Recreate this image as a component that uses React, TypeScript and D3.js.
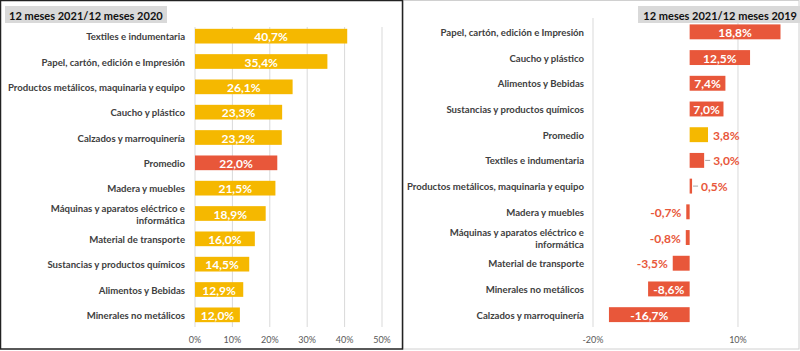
import React from "react";
import * as d3 from "d3";

const leftCategories = [
  "Textiles e indumentaria",
  "Papel, cartón, edición e Impresión",
  "Productos metálicos, maquinaria y equipo",
  "Caucho y plástico",
  "Calzados y marroquinería",
  "Promedio",
  "Madera y muebles",
  "Máquinas y aparatos eléctrico e|informática",
  "Material de transporte",
  "Sustancias y productos químicos",
  "Alimentos y Bebidas",
  "Minerales no metálicos",
];
const leftValues = [40.7, 35.4, 26.1, 23.3, 23.2, 22.0, 21.5, 18.9, 16.0, 14.5, 12.9, 12.0];
const leftTicks = [0, 10, 20, 30, 40, 50];

const rightCategories = [
  "Papel, cartón, edición e Impresión",
  "Caucho y plástico",
  "Alimentos y Bebidas",
  "Sustancias y productos químicos",
  "Promedio",
  "Textiles e indumentaria",
  "Productos metálicos, maquinaria y equipo",
  "Madera y muebles",
  "Máquinas y aparatos eléctrico e|informática",
  "Material de transporte",
  "Minerales no metálicos",
  "Calzados y marroquinería",
];
const rightValues = [18.8, 12.5, 7.4, 7.0, 3.8, 3.0, 0.5, -0.7, -0.8, -3.5, -8.6, -16.7];
const rightTicks = [-20, 10];

const YELLOW = "#F5B800";
const RED = "#E8573A";
const LABEL = "#404040";
const GRID = "#D9D9D9";
const FONT = "Lato, 'Open Sans', sans-serif";

const fmt = (v: number) => v.toFixed(1).replace(".", ",") + "%";

const CatLabel = ({ x, y, text }: { x: number; y: number; text: string }) => {
  const lines = text.split("|");
  const off = lines.length > 1 ? -6 : 0;
  return (
    <text
      x={x}
      y={y + off}
      textAnchor="end"
      dominantBaseline="central"
      fontSize={9.6}
      fontWeight={700}
      fill={LABEL}
      fontFamily={FONT}
    >
      {lines.map((l, i) => (
        <tspan key={i} x={x} dy={i === 0 ? 0 : 12.5}>
          {l}
        </tspan>
      ))}
    </text>
  );
};

const LeftChart = () => {
  const x = d3.scaleLinear().domain([0, 50]).range([195, 382]);
  const y = d3
    .scaleBand<string>()
    .domain(leftCategories)
    .range([23.5, 327.5])
    .paddingInner(0.42)
    .paddingOuter(0.21);

  return (
    <g>
      <rect x={0.5} y={0.5} width={402} height={348.5} fill="#fff" stroke="#222" strokeWidth={1.5} />
      <rect x={5} y={6} width={162} height={17} fill="#D9D9D9" />
      <text x={9} y={15} dominantBaseline="central" fontSize={11} fontWeight={700} fill="#111" fontFamily={FONT}>
        12 meses 2021/12 meses 2020
      </text>
      {leftTicks.map((t) => (
        <g key={t}>
          <line x1={x(t)} x2={x(t)} y1={27} y2={327} stroke={GRID} strokeWidth={1} />
          <text
            x={x(t)}
            y={339}
            textAnchor="middle"
            dominantBaseline="central"
            fontSize={9}
            fill="#595959"
            fontFamily={FONT}
          >
            {t}%
          </text>
        </g>
      ))}
      {leftCategories.map((c, i) => {
        const v = leftValues[i];
        const yy = y(c)!;
        const bw = y.bandwidth();
        const isAvg = c === "Promedio";
        return (
          <g key={c}>
            <rect x={x(0)} y={yy} width={x(v) - x(0)} height={bw} fill={isAvg ? RED : YELLOW} />
            <text
              x={(x(0) + x(v)) / 2}
              y={yy + bw / 2 + 0.5}
              textAnchor="middle"
              dominantBaseline="central"
              fontSize={12}
              fontWeight={700}
              fill="#fff"
              fontFamily={FONT}
            >
              {fmt(v)}
            </text>
            <CatLabel x={185} y={yy + bw / 2} text={c} />
          </g>
        );
      })}
    </g>
  );
};

const RightChart = () => {
  const x = d3.scaleLinear().domain([-20, 20]).range([593, 786.3]);
  const y = d3
    .scaleBand<string>()
    .domain(rightCategories)
    .range([19, 327.5])
    .paddingInner(0.42)
    .paddingOuter(0.21);

  return (
    <g>
      <rect x={403} y={0.5} width={396} height={348.5} fill="#fff" stroke="#D0D0D0" strokeWidth={1} />
      {rightTicks.map((t) => (
        <g key={t}>
          <line x1={x(t)} x2={x(t)} y1={18} y2={327} stroke={GRID} strokeWidth={1} />
          <text
            x={x(t)}
            y={339}
            textAnchor="middle"
            dominantBaseline="central"
            fontSize={9}
            fill="#595959"
            fontFamily={FONT}
          >
            {t}%
          </text>
        </g>
      ))}
      <rect x={638} y={6} width={162} height={17} fill="#D9D9D9" />
      <text
        x={797}
        y={15}
        textAnchor="end"
        dominantBaseline="central"
        fontSize={11}
        fontWeight={700}
        fill="#111"
        fontFamily={FONT}
      >
        12 meses 2021/12 meses 2019
      </text>
      {rightCategories.map((c, i) => {
        const v = rightValues[i];
        const yy = y(c)!;
        const bw = y.bandwidth();
        const cy = yy + bw / 2;
        const isAvg = c === "Promedio";
        const x0 = x(Math.min(0, v));
        const x1 = x(Math.max(0, v));
        const inside = Math.abs(v) >= 5;
        const leader = v > 0 && v < 3.5;
        let label;
        if (inside) {
          label = (
            <text
              x={(x0 + x1) / 2}
              y={cy + 0.5}
              textAnchor="middle"
              dominantBaseline="central"
              fontSize={12}
              fontWeight={700}
              fill="#fff"
              fontFamily={FONT}
            >
              {fmt(v)}
            </text>
          );
        } else if (v > 0) {
          const tx = leader ? x1 + 9 : x1 + 5;
          label = (
            <g>
              {leader && <line x1={x1 + 1} x2={x1 + 6} y1={cy} y2={cy} stroke="#A6A6A6" strokeWidth={1} />}
              <text
                x={v < 1 ? tx : Math.max(tx, 712)}
                y={cy + 0.5}
                textAnchor="start"
                dominantBaseline="central"
                fontSize={12}
                fontWeight={700}
                fill={RED}
                fontFamily={FONT}
              >
                {fmt(v)}
              </text>
            </g>
          );
        } else {
          label = (
            <text
              x={x0 - 5}
              y={cy + 0.5}
              textAnchor="end"
              dominantBaseline="central"
              fontSize={12}
              fontWeight={700}
              fill={RED}
              fontFamily={FONT}
            >
              {fmt(v)}
            </text>
          );
        }
        return (
          <g key={c}>
            <rect x={x0} y={yy} width={Math.max(1.5, x1 - x0)} height={bw} fill={isAvg ? YELLOW : RED} />
            {label}
            <CatLabel x={584} y={cy} text={c} />
          </g>
        );
      })}
    </g>
  );
};

export default function App() {
  return (
    <div style={{ position: "fixed", left: 0, top: 0 }}>
      <svg width={800} height={351} style={{ display: "block", background: "#fff" }}>
        <RightChart />
        <LeftChart />
      </svg>
    </div>
  );
}
